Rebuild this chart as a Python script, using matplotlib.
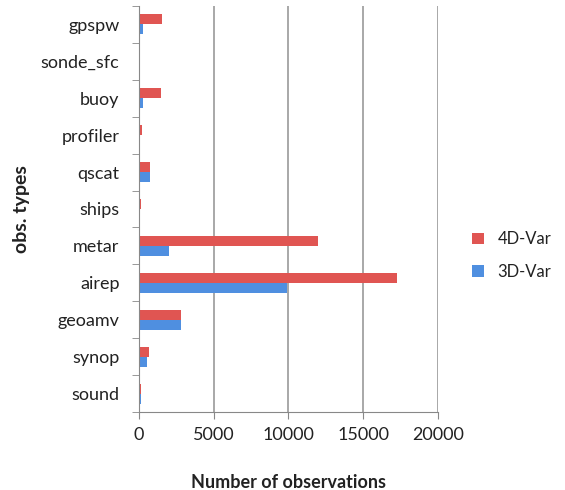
import matplotlib
matplotlib.use("Agg")
import matplotlib.pyplot as plt
import numpy as np

plt.rcParams['font.family'] = ['Lato', 'DejaVu Sans']

# categories, bottom to top
obs_types = ['sound', 'synop', 'geoamv', 'airep', 'metar', 'ships',
             'qscat', 'profiler', 'buoy', 'sonde_sfc', 'gpspw']
var4d = [150, 690, 2820, 17250, 12000, 150, 730, 200, 1480, 100, 1530]
var3d = [120, 530, 2820, 9900, 1980, 100, 730, 100, 290, 50, 300]
xticks = [0, 5000, 10000, 15000, 20000]

red = '#e05552'
blue = '#4f8fe0'
txt = '#222222'

fig = plt.figure(figsize=(5.65, 4.90), dpi=100)
ax = fig.add_axes([0.246, 0.159, 0.529, 0.829])

y = np.arange(len(obs_types))
h = 0.27
ax.barh(y + h / 2, var4d, height=h, color=red, label='4D-Var', zorder=3)
ax.barh(y - h / 2, var3d, height=h, color=blue, label='3D-Var', zorder=3)

ax.set_xlim(0, 20000)
ax.set_ylim(-0.5, len(obs_types) - 0.5)
ax.set_xticks(xticks)
ax.set_xticklabels([str(v) for v in xticks], fontsize=13, color=txt)
ax.set_yticks(y)
ax.set_yticklabels(obs_types, fontsize=13, color=txt)
ax.tick_params(axis='y', length=0, pad=14)
ax.set_yticks(np.arange(-0.5, len(obs_types)), minor=True)
ax.tick_params(axis='y', which='minor', length=5, color='#888888', direction='out')
ax.tick_params(axis='x', length=5, color='#888888', direction='out', pad=6)

ax.grid(axis='x', color='#999999', linewidth=1.2, zorder=0)
for s in ['top', 'right']:
    ax.spines[s].set_visible(False)
for s in ['left', 'bottom']:
    ax.spines[s].set_color('#888888')
    ax.spines[s].set_zorder(4)

ax.set_xlabel('Number of observations', fontsize=13, fontweight='bold',
              labelpad=22, color=txt)
ax.set_ylabel('obs. types', fontsize=14, fontweight='bold', labelpad=8, color=txt)

ax.legend(loc='center left', bbox_to_anchor=(1.065, 0.385), frameon=False,
          fontsize=12, handlelength=0.7, handleheight=0.7, labelspacing=1.0,
          labelcolor=txt)

fig.savefig('out.png', dpi=100)
